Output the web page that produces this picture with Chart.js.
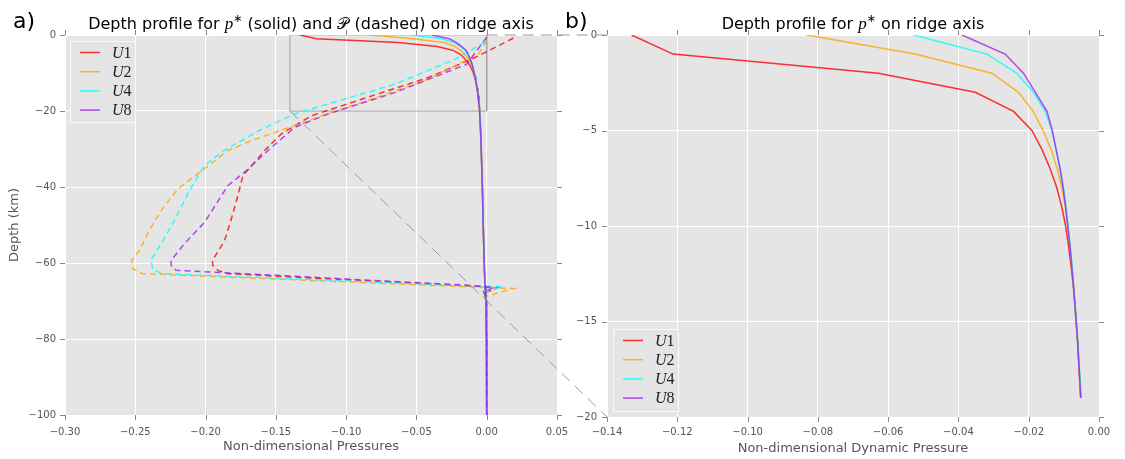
<!DOCTYPE html>
<html>
<head>
<meta charset="utf-8">
<script src="https://cdn.jsdelivr.net/npm/chart.js@4.4.1/dist/chart.umd.min.js"></script>
<style>
  html, body { margin: 0; padding: 0; background: #fff; }
  #wrap { position: relative; width: 1125px; height: 459px; overflow: hidden; }
  #leftChart { position: absolute; left: 0; top: 0; }
  #rightChart { position: absolute; left: 555px; top: 0; }
  #overlay { position: absolute; left: 0; top: 0; pointer-events: none; }
</style>
</head>
<body>
<div id="wrap">
  <canvas id="leftChart" width="575" height="459"></canvas>
  <canvas id="rightChart" width="570" height="459"></canvas>
  <canvas id="overlay" width="1125" height="459"></canvas>
</div>
<script>
var runLabels = ['U1', 'U2', 'U4', 'U8'];
var runColors = ['rgba(255,0,0,0.8)', 'rgba(255,165,0,0.8)', 'rgba(0,255,255,0.8)', 'rgba(160,32,240,0.8)'];

// p* on ridge axis (solid), top 19 km
var depthKm = [0, -1, -2, -3, -4, -5, -6, -7, -8, -9, -10, -11, -12, -13, -14, -15, -16, -17, -18, -19];
var pStarU1 = [-0.133, -0.1212, -0.0628, -0.0352, -0.0243, -0.0191, -0.0162, -0.0139, -0.0120, -0.0106, -0.0095, -0.0087, -0.0080, -0.0074, -0.0069, -0.0065, -0.0061, -0.0058, -0.0055, -0.0052];
var pStarU2 = [-0.0832, -0.0523, -0.0305, -0.0229, -0.0187, -0.0159, -0.0136, -0.0119, -0.0106, -0.0096, -0.0089, -0.0083, -0.0078, -0.0073, -0.0069, -0.0065, -0.0061, -0.0058, -0.0055, -0.0052];
var pStarU4 = [-0.0528, -0.0319, -0.0234, -0.0187, -0.0153, -0.0134, -0.0122, -0.0110, -0.0101, -0.0094, -0.0088, -0.0082, -0.0077, -0.0073, -0.0069, -0.0064, -0.0061, -0.0057, -0.0054, -0.0051];
var pStarU8 = [-0.0390, -0.0267, -0.0215, -0.0181, -0.0148, -0.0133, -0.0122, -0.0111, -0.0102, -0.0095, -0.0089, -0.0083, -0.0078, -0.0073, -0.0069, -0.0065, -0.0061, -0.0058, -0.0055, -0.0052];

// p* below 19 km (panel a only)
var deepDepthKm = [-25, -30, -40, -50, -60, -66, -70, -80, -100];
var pStarDeep = [-0.0044, -0.0039, -0.0031, -0.0025, -0.0018, -0.0012, -0.0006, -0.0002, 0];

// P (dashed), panel a
var bigPDepthU1 = [-0.8, -6.0, -11.2, -16.9, -21.3, -26, -30.4, -33.9, -37, -43.6, -48.8, -54.1, -59.3, -60.6, -62, -62.8, -66.1, -66.4, -68, -70, -100];
var bigPU1 = [0.019, -0.0086, -0.0416, -0.089, -0.125, -0.146, -0.158, -0.166, -0.1734, -0.178, -0.182, -0.1865, -0.195, -0.195, -0.191, -0.184, -0.0107, 0.008, -0.002, 0, 0];
var bigPDepthU2 = [-1.5, -5.1, -11.6, -17.8, -21.3, -23.9, -27.8, -30.4, -34.4, -40.5, -46.2, -51.4, -56.7, -59.3, -61.5, -62.8, -66.3, -66.7, -69, -70.3, -100];
var bigPU2 = [0, -0.006, -0.0416, -0.089, -0.118, -0.137, -0.1675, -0.184, -0.198, -0.2197, -0.2316, -0.24, -0.247, -0.2525, -0.252, -0.2447, -0.0107, 0.019, -0.0024, 0, 0];
var bigPDepthU4 = [-1.9, -6.4, -12.9, -20.8, -25, -30.4, -34.4, -41, -48, -54, -59.3, -61.5, -62.8, -66, -66.2, -68, -70, -100];
var bigPU4 = [-0.0012, -0.0226, -0.065, -0.137, -0.161, -0.187, -0.201, -0.2115, -0.221, -0.230, -0.239, -0.2376, -0.2316, -0.0107, 0.0107, -0.002, 0, 0];
var bigPDepthU8 = [-0.6, -7.7, -15.1, -20.8, -24.3, -30.4, -35.7, -39.6, -49.3, -54.9, -59.3, -60.6, -61.9, -65.9, -66.5, -67.5, -69.3, -100];
var bigPU8 = [0, -0.0143, -0.065, -0.113, -0.1366, -0.1556, -0.171, -0.184, -0.2008, -0.215, -0.2245, -0.2245, -0.221, -0.0107, 0.0048, -0.0024, 0, 0];

var leftXTicks = [-0.30, -0.25, -0.20, -0.15, -0.10, -0.05, 0.00, 0.05];
var leftYTicks = [0, -20, -40, -60, -80, -100];
var rightXTicks = [-0.14, -0.12, -0.10, -0.08, -0.06, -0.04, -0.02, 0.00];
var rightYTicks = [0, -5, -10, -15, -20];
// zoom window of panel b, outlined in panel a
var zoomX = [-0.14, 0];
var zoomY = [-20, 0];

var pStarAll = [pStarU1, pStarU2, pStarU4, pStarU8];
var bigPAll = [bigPU1, bigPU2, bigPU4, bigPU8];
var bigPDepthAll = [bigPDepthU1, bigPDepthU2, bigPDepthU4, bigPDepthU8];

var sans = '"DejaVu Sans", sans-serif';
var tickGrey = '#555';

function fmt(v, digits) {
    if (Math.abs(v) < 1e-12) v = 0;
    return v.toFixed(digits).replace('-', '\u2212');
}

function toPoints(xs, ys) {
    return xs.map(function (x, i) { return { x: x, y: ys[i] }; });
}

function drawParts(ctx, parts, cx, baseline) {
    var total = 0;
    parts.forEach(function (p) { ctx.font = p.f; total += ctx.measureText(p.t).width; });
    var x = cx - total / 2;
    ctx.textAlign = 'left';
    ctx.textBaseline = 'alphabetic';
    parts.forEach(function (p) {
        ctx.font = p.f;
        ctx.fillText(p.t, x, baseline + (p.dy || 0));
        x += ctx.measureText(p.t).width;
    });
}

var panelPlugin = {
    id: 'panel',
    beforeDraw: function (chart) {
        var a = chart.chartArea, ctx = chart.ctx;
        ctx.save();
        ctx.fillStyle = '#E5E5E5';
        ctx.fillRect(a.left, a.top, a.right - a.left, a.bottom - a.top);
        ctx.restore();
    },
    afterDraw: function (chart, args, opts) {
        var a = chart.chartArea, ctx = chart.ctx;
        var sx = chart.scales.x, sy = chart.scales.y;
        ctx.save();
        // outward tick marks on all four sides
        ctx.strokeStyle = '#888';
        ctx.lineWidth = 1;
        ctx.beginPath();
        sx.ticks.forEach(function (t) {
            var px = Math.round(sx.getPixelForValue(t.value)) + 0.5;
            ctx.moveTo(px, a.bottom); ctx.lineTo(px, a.bottom + 5);
            ctx.moveTo(px, a.top); ctx.lineTo(px, a.top - 5);
        });
        sy.ticks.forEach(function (t) {
            var py = Math.round(sy.getPixelForValue(t.value)) + 0.5;
            ctx.moveTo(a.left, py); ctx.lineTo(a.left - 5, py);
            ctx.moveTo(a.right, py); ctx.lineTo(a.right + 5, py);
        });
        ctx.stroke();

        // title and panel letter
        ctx.fillStyle = '#000';
        drawParts(ctx, opts.title, (a.left + a.right) / 2, 29);
        ctx.font = '22px ' + sans;
        ctx.textAlign = 'left';
        ctx.fillText(opts.letter, opts.letterX, 28);

        // legend
        var lg = opts.legend;
        var bx = a.left + lg.dx;
        var by = lg.fromBottom ? a.bottom - lg.dy - lg.h : a.top + lg.dy;
        ctx.fillStyle = '#E5E5E5';
        ctx.fillRect(bx, by, lg.w, lg.h);
        ctx.strokeStyle = '#fafafa';
        ctx.strokeRect(bx + 0.5, by + 0.5, lg.w, lg.h);
        runLabels.forEach(function (lab, i) {
            var ry = by + 11.5 + i * 19.2;
            ctx.strokeStyle = runColors[i];
            ctx.lineWidth = 1.5;
            ctx.beginPath();
            ctx.moveTo(bx + 10, ry); ctx.lineTo(bx + 30, ry);
            ctx.stroke();
            ctx.fillStyle = '#222';
            ctx.textBaseline = 'middle';
            ctx.font = 'italic 16px "Liberation Serif", serif';
            ctx.fillText(lab.charAt(0), bx + 42, ry + 1);
            var w = ctx.measureText(lab.charAt(0)).width;
            ctx.font = '16px "Liberation Serif", serif';
            ctx.fillText(lab.slice(1), bx + 42 + w, ry + 1);
        });
        ctx.restore();
    }
};

function axisCommon(ticksArr, digits, pad) {
    return {
        type: 'linear',
        afterBuildTicks: function (s) { s.ticks = ticksArr.map(function (v) { return { value: v }; }); },
        ticks: {
            callback: function (v) { return fmt(v, digits); },
            padding: pad, color: tickGrey, autoSkip: false, maxRotation: 0,
            font: { family: sans, size: 10 }
        },
        grid: { color: '#ffffff', lineWidth: 1, drawTicks: false },
        border: { display: false }
    };
}

// panel a
var leftSets = [];
runLabels.forEach(function (lab, i) {
    leftSets.push({
        label: lab + ' p*',
        data: toPoints(pStarAll[i].concat(pStarDeep), depthKm.concat(deepDepthKm)),
        borderColor: runColors[i], borderWidth: 1.5, showLine: true, pointRadius: 0, order: 20 - 2 * i
    });
    leftSets.push({
        label: lab + ' P',
        data: toPoints(bigPAll[i], bigPDepthAll[i]),
        borderColor: runColors[i], borderWidth: 1.5, borderDash: [6, 4], showLine: true, pointRadius: 0, order: 19 - 2 * i
    });
});
leftSets.push({
    label: 'zoom',
    data: toPoints([zoomX[0], zoomX[1], zoomX[1], zoomX[0], zoomX[0]], [zoomY[1], zoomY[1], zoomY[0], zoomY[0], zoomY[1]]),
    borderColor: '#a0a0a0', borderWidth: 1, showLine: true, pointRadius: 0, order: 30
});

var lx = axisCommon(leftXTicks, 2, 11);
lx.min = -0.3; lx.max = 0.05;
lx.title = { display: true, text: 'Non-dimensional Pressures', color: tickGrey, font: { family: sans, size: 13 }, padding: { top: 0, bottom: 5 } };
lx.afterFit = function (s) { s.height = 44; s.paddingLeft = 0; s.paddingRight = 0; };
var ly = axisCommon(leftYTicks, 0, 9);
ly.min = -100; ly.max = 0;
ly.title = { display: true, text: 'Depth (km)', color: tickGrey, font: { family: sans, size: 13 }, padding: { top: 7, bottom: 0 } };
ly.afterFit = function (s) { s.width = 65; s.paddingTop = 0; s.paddingBottom = 0; };

var leftChart = new Chart(document.getElementById('leftChart').getContext('2d'), {
    type: 'scatter',
    data: { datasets: leftSets },
    options: {
        responsive: false, animation: false, devicePixelRatio: 1,
        layout: { padding: { top: 35, right: 18, left: 0, bottom: 0 } },
        scales: { x: lx, y: ly },
        plugins: {
            legend: { display: false }, tooltip: { enabled: false },
            panel: {
                letter: 'a)', letterX: 13,
                title: [
                    { t: 'Depth profile for ', f: '16px ' + sans },
                    { t: 'p', f: 'italic 17px "Liberation Serif", serif' },
                    { t: '\u2217', f: '11px ' + sans, dy: -7 },
                    { t: ' (solid) and ', f: '16px ' + sans },
                    { t: '\uD835\uDCAB', f: '16px "DejaVu Sans", "DejaVu Serif", serif' },
                    { t: ' (dashed) on ridge axis', f: '16px ' + sans }
                ],
                legend: { dx: 5, dy: 6, w: 65, h: 81, fromBottom: false }
            }
        }
    },
    plugins: [panelPlugin]
});

// panel b
var rightSets = runLabels.map(function (lab, i) {
    return {
        label: lab,
        data: toPoints(pStarAll[i], depthKm),
        borderColor: runColors[i], borderWidth: 1.5, showLine: true, pointRadius: 0, order: 10 - i
    };
});

var rx = axisCommon(rightXTicks, 2, 9);
rx.min = zoomX[0]; rx.max = zoomX[1];
rx.title = { display: true, text: 'Non-dimensional Dynamic Pressure', color: tickGrey, font: { family: sans, size: 13 }, padding: { top: 0, bottom: 3 } };
rx.afterFit = function (s) { s.height = 42; s.paddingLeft = 0; s.paddingRight = 0; };
var ry = axisCommon(rightYTicks, 0, 10);
ry.min = zoomY[0]; ry.max = zoomY[1];
ry.afterFit = function (s) { s.width = 52; s.paddingTop = 0; s.paddingBottom = 0; };

var rightChart = new Chart(document.getElementById('rightChart').getContext('2d'), {
    type: 'scatter',
    data: { datasets: rightSets },
    options: {
        responsive: false, animation: false, devicePixelRatio: 1,
        layout: { padding: { top: 35, right: 26, left: 0, bottom: 0 } },
        scales: { x: rx, y: ry },
        plugins: {
            legend: { display: false }, tooltip: { enabled: false },
            panel: {
                letter: 'b)', letterX: 10,
                title: [
                    { t: 'Depth profile for ', f: '16px ' + sans },
                    { t: 'p', f: 'italic 17px "Liberation Serif", serif' },
                    { t: '\u2217', f: '11px ' + sans, dy: -7 },
                    { t: ' on ridge axis', f: '16px ' + sans }
                ],
                legend: { dx: 6, dy: 6, w: 65, h: 82, fromBottom: true }
            }
        }
    },
    plugins: [panelPlugin]
});

// inset connector lines between the panels
function drawConnectors() {
    var ov = document.getElementById('overlay').getContext('2d');
    var off = document.getElementById('rightChart').offsetLeft;
    var ra = rightChart.chartArea;
    var sx = leftChart.scales.x, sy = leftChart.scales.y;
    ov.save();
    ov.strokeStyle = '#999';
    ov.lineWidth = 1;
    ov.setLineDash([11, 7]);
    ov.beginPath();
    ov.moveTo(sx.getPixelForValue(zoomX[1]), sy.getPixelForValue(zoomY[1]));
    ov.lineTo(off + ra.left, ra.top);
    ov.moveTo(sx.getPixelForValue(zoomX[0]), sy.getPixelForValue(zoomY[0]));
    ov.lineTo(off + ra.left, ra.bottom);
    ov.stroke();
    ov.restore();
}
drawConnectors();
</script>
</body>
</html>
